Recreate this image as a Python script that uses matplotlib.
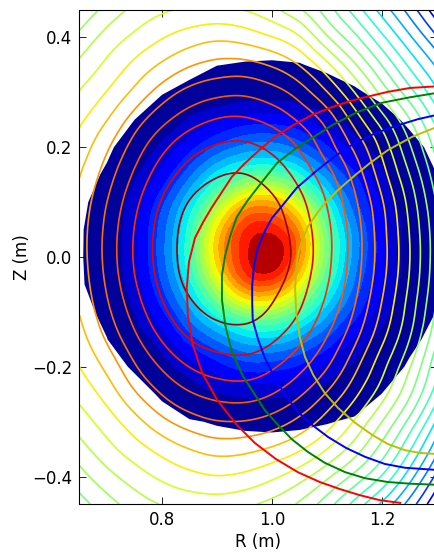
#!/usr/bin/env python
# coding: utf-8
import numpy as np
import matplotlib
matplotlib.use("Agg")
import matplotlib.pyplot as plt
import matplotlib.tri as tri
from matplotlib.colors import Normalize

# grille commune (m)
R_grid = [0.65, 0.70, 0.75, 0.80, 0.85, 0.90, 0.95, 1.00, 1.05, 1.10, 1.15, 1.20, 1.25, 1.30]
Z_grid = [0.45, 0.40, 0.35, 0.30, 0.25, 0.20, 0.15, 0.10, 0.05, 0.0,
          -0.05, -0.10, -0.15, -0.20, -0.25, -0.30, -0.35, -0.40, -0.45]

# profil rempli (en numero de bande)
profile = [
    [-.5, -.5, -.5, -.5, -.5, -.5, -.5, -.5, -.5, -.5, -.5, -.5, -.5, -.5],
    [-.5, -.5, -.5, -.5, -.4, -.32, -.3, -.27, -.3, -.4, -.5, -.5, -.5, -.5],
    [-.5, -.5, -.5, -.36, -.18, -.01, .04, .055, .025, -.11, -.25, -.4, -.5, -.5],
    [-.5, -.45, -.33, -.03, .15, .35, .5, .55, .45, .25, .07, -.14, -.3, -.45],
    [-.45, -.3, 0, .3, 1.1, 1.8, 2.4, 2.5, 2.1, 1.3, .6, .2, -.1, -.35],
    [-.4, -.1, .3, 1.2, 2.6, 4.2, 5.3, 5.5, 4.6, 3.1, 1.5, .55, .17, -.15],
    [-.24, .08, .85, 2.3, 4.7, 7.4, 9.3, 9.7, 8.1, 5.4, 3.1, 1.15, .3, 0],
    [-.14, .3, 1.4, 3.7, 7.0, 11.0, 14.6, 15.1, 12.3, 8.0, 4.3, 1.8, .5, .04],
    [-.08, .45, 1.7, 4.5, 8.5, 14.0, 18.0, 18.6, 15.6, 9.9, 5.4, 2.3, .65, .06],
    [-.07, .45, 1.75, 4.6, 8.8, 14.5, 18.6, 20.0, 16.0, 10.2, 5.5, 2.4, .65, .06],
    [-.09, .4, 1.5, 4.0, 7.6, 12.3, 16.5, 17.0, 13.4, 8.7, 4.8, 2.0, .6, .03],
    [-.18, .14, 1.0, 2.8, 5.6, 8.6, 11.0, 11.4, 9.3, 6.3, 3.5, 1.4, .4, -.02],
    [-.33, -.01, .55, 1.5, 3.4, 5.1, 6.5, 6.7, 5.6, 3.8, 1.8, .65, .14, -.18],
    [-.45, -.25, .08, .6, 1.5, 2.5, 3.4, 3.4, 2.8, 1.7, .8, .3, -.07, -.4],
    [-.5, -.45, -.25, .08, .5, .9, 1.2, 1.2, 1.0, .6, .3, -.01, -.3, -.5],
    [-.5, -.5, -.5, -.23, -.05, .05, .11, .13, .1, .03, -.07, -.33, -.5, -.5],
    [-.5, -.5, -.5, -.5, -.37, -.28, -.22, -.2, -.23, -.3, -.4, -.5, -.5, -.5],
    [-.5, -.5, -.5, -.5, -.5, -.5, -.5, -.5, -.5, -.5, -.5, -.5, -.5, -.5],
    [-.5, -.5, -.5, -.5, -.5, -.5, -.5, -.5, -.5, -.5, -.5, -.5, -.5, -.5],
]
profile_levels = list(range(1, 20)) + [21]

# surfaces de flux (en numero de contour)
flux = [
    [11.8, 10.65, 9.75, 9.15, 8.88, 8.82, 9.02, 9.72, 10.85, 12.5, 14.4, 16.4, 18.4, 20.7],
    [10.73, 9.63, 8.78, 8.06, 7.51, 7.21, 7.41, 7.95, 8.9, 10.86, 12.71, 14.76, 16.81, 18.91],
    [9.78, 8.78, 7.78, 6.85, 6.1, 5.7, 5.68, 6.12, 7.05, 8.75, 10.85, 13.05, 15.2, 17.2],
    [8.95, 7.95, 6.75, 5.55, 4.7, 4.27, 4.19, 4.6, 5.46, 6.95, 9.0, 11.35, 13.6, 15.8],
    [8.19, 7.02, 5.55, 4.3, 3.44, 2.95, 2.88, 3.3, 4.15, 5.4, 7.4, 9.55, 11.95, 14.4],
    [7.6, 6.15, 4.57, 3.25, 2.37, 1.9, 1.8, 2.22, 3.1, 4.5, 6.2, 8.3, 10.85, 13.4],
    [7.05, 5.5, 3.84, 2.5, 1.6, 1.08, .98, 1.45, 2.33, 3.63, 5.36, 7.55, 10.0, 12.7],
    [6.7, 5.0, 3.28, 1.93, .96, .46, .41, .84, 1.75, 3.06, 4.8, 6.9, 9.35, 12.1],
    [6.5, 4.72, 2.97, 1.64, .64, .13, .11, .53, 1.46, 2.78, 4.5, 6.64, 9.05, 11.75],
    [6.5, 4.67, 2.91, 1.6, .59, .08, .06, .42, 1.36, 2.74, 4.47, 6.58, 8.96, 11.7],
    [6.65, 4.86, 3.12, 1.79, .8, .31, .26, .7, 1.6, 2.94, 4.67, 6.78, 9.13, 11.85],
    [6.95, 5.25, 3.58, 2.23, 1.3, .78, .7, 1.15, 2.02, 3.38, 5.09, 7.18, 9.47, 12.25],
    [7.45, 5.87, 4.26, 2.93, 2.01, 1.57, 1.46, 1.87, 2.77, 4.07, 5.77, 7.8, 10.0, 12.9],
    [8.0, 6.73, 5.14, 3.88, 2.98, 2.53, 2.44, 2.87, 3.73, 4.94, 6.7, 8.67, 10.9, 13.8],
    [8.7, 7.6, 6.17, 4.97, 4.13, 3.69, 3.6, 4.0, 4.86, 6.13, 7.75, 9.6, 11.85, 14.6],
    [9.5, 8.5, 7.38, 6.28, 5.5, 5.06, 5.05, 5.46, 6.29, 7.5, 9.1, 11.0, 13.3, 16.2],
    [10.4, 9.35, 8.45, 7.65, 7.0, 6.62, 6.72, 7.15, 7.87, 9.0, 10.5, 12.4, 14.85, 17.7],
    [11.4, 10.35, 9.5, 8.8, 8.3, 8.05, 8.25, 8.8, 9.6, 10.8, 12.3, 14.1, 16.55, 19.3],
    [12.4, 11.4, 10.55, 9.95, 9.65, 9.55, 9.8, 10.3, 11.15, 12.55, 14.3, 16.2, 18.4, 20.9],
]
flux_levels = list(range(1, 22))
flux_jet = [.97, .91, .86, .82, .79, .75, .71, .66, .61, .57, .54, .50, .47, .43, .40, .35, .30, .25, .18, .12, .06]

# les quatre arcs
red_R = [1.233, 1.196, 1.160, 1.124, 1.087, 1.047, 1.007, .969, .936, .900, .873, .856, .847, .845, .849, .860, .875, .891,
         .927, .951, .975, 1.005, 1.038, 1.073, 1.109, 1.142, 1.169, 1.211, 1.251, 1.300]
red_Z = [-.448, -.443, -.434, -.423, -.410, -.392, -.368, -.339, -.306, -.260, -.211, -.160, -.107, -.056, -.009, .035, .064, .091,
         .146, .171, .193, .219, .240, .259, .273, .284, .291, .301, .308, .311]
green_R = [1.3, 1.251, 1.211, 1.169, 1.133, 1.096, 1.065, 1.036, 1.011, .987, .969, .947, .927, .915, .909, .909, .915, .924,
           .936, .955, .975, 1.009, 1.042, 1.073, 1.109, 1.155, 1.200, 1.251, 1.3]
green_Z = [-.415, -.413, -.410, -.403, -.392, -.375, -.355, -.332, -.306, -.279, -.251, -.217, -.173, -.124, -.078, -.033, .004, .038,
           .073, .102, .128, .171, .197, .217, .240, .264, .281, .291, .299]
blue_R = [1.3, 1.242, 1.205, 1.169, 1.135, 1.102, 1.073, 1.047, 1.025, 1.005, .987, .975, .965, .964, .964, .967, .973, .987,
          1.0, 1.015, 1.045, 1.082, 1.115, 1.151, 1.189, 1.229, 1.265, 1.3]
blue_Z = [-.388, -.384, -.377, -.364, -.348, -.328, -.306, -.282, -.253, -.220, -.184, -.151, -.115, -.084, -.051, -.018, .013, .047,
          .071, .089, .126, .158, .184, .208, .226, .240, .251, .259]
yellow_R = [1.3, 1.269, 1.242, 1.211, 1.182, 1.151, 1.120, 1.096, 1.075, 1.060, 1.051, 1.044, 1.042, 1.044, 1.047, 1.055, 1.065,
            1.080, 1.096, 1.120, 1.151, 1.178, 1.211, 1.255, 1.3]
yellow_Z = [-.359, -.357, -.352, -.341, -.324, -.302, -.275, -.248, -.215, -.182, -.148, -.102, -.056, -.024, .004, .031, .055,
            .077, .098, .122, .149, .171, .195, .219, .237]

x_ticks = [0.8, 1.0, 1.2]
y_ticks = [-0.4, -0.2, 0.0, 0.2, 0.4]

plt.rcParams['xtick.direction'] = 'in'
plt.rcParams['ytick.direction'] = 'in'
plt.rcParams['xtick.top'] = True
plt.rcParams['ytick.right'] = True
plt.rcParams['font.size'] = 12

fig = plt.figure(figsize=(4.35, 5.53), dpi=100)
ax = fig.add_axes([79.5 / 435, 49.0 / 553, 357.5 / 435, 494.0 / 553])

# le fond bleu fonce garde son contour polygonal
ax.contourf(R_grid, Z_grid, np.array(profile), levels=[0, 21], colors=[plt.cm.jet(0.024)], antialiased=True)

# les bandes et les surfaces de flux passent par le raffineur de matplotlib
RR, ZZ = np.meshgrid(R_grid, Z_grid)
triang = tri.Triangulation(RR.ravel(), ZZ.ravel())
refiner = tri.UniformTriRefiner(triang)
fine_p, profile_fine = refiner.refine_field(np.array(profile).ravel(), subdiv=2)
fine_f, flux_fine = refiner.refine_field(np.array(flux).ravel(), subdiv=3)
ax.tricontourf(fine_p, profile_fine, levels=profile_levels, cmap='jet', norm=Normalize(0, 21), antialiased=False)
ax.tricontour(fine_f, flux_fine, levels=flux_levels,
              colors=[plt.cm.jet(v) for v in flux_jet], linewidths=1.2)

ax.plot(red_R, red_Z, color='r', lw=1.4)
ax.plot(green_R, green_Z, color='g', lw=1.4)
ax.plot(blue_R, blue_Z, color='b', lw=1.4)
ax.plot(yellow_R, yellow_Z, color=(.75, .75, 0), lw=1.4)

ax.set_xlim(0.65, 1.3)
ax.set_ylim(-0.45, 0.45)
ax.set_xticks(x_ticks)
ax.set_yticks(y_ticks)
ax.tick_params(length=5, width=0.6, labelsize=12, pad=5)
ax.set_xlabel("R (m)", fontsize=12, labelpad=3)
ax.set_ylabel("Z (m)", fontsize=12, labelpad=1)

fig.savefig("out.png", dpi=100)
